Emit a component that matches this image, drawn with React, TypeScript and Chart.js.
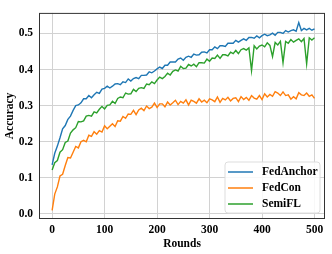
import React, { useEffect, useRef } from "react";
import { Chart, registerables } from "chart.js";

Chart.register(...registerables);

const xTicks = [0, 100, 200, 300, 400, 500];
const yTicks = [0.0, 0.1, 0.2, 0.3, 0.4, 0.5];
const seriesNames = ["FedAnchor", "FedCon", "SemiFL"];
const seriesColors = ["#1f77b4", "#ff7f0e", "#2ca02c"];

// rounds 0..500, every 5 rounds
const fedAnchor = [
  0.136, 0.168, 0.188, 0.211, 0.236, 0.245, 0.262, 0.271, 0.287, 0.300,
  0.302, 0.308, 0.319, 0.319, 0.328, 0.322, 0.330, 0.337, 0.334, 0.346,
  0.348, 0.354, 0.349, 0.354, 0.360, 0.361, 0.358, 0.366, 0.364, 0.374,
  0.368, 0.375, 0.378, 0.375, 0.384, 0.384, 0.385, 0.394, 0.391, 0.396,
  0.402, 0.407, 0.403, 0.412, 0.412, 0.421, 0.421, 0.421, 0.429, 0.432,
  0.426, 0.434, 0.437, 0.434, 0.443, 0.440, 0.441, 0.448, 0.449, 0.446,
  0.455, 0.455, 0.463, 0.458, 0.466, 0.466, 0.464, 0.473, 0.473, 0.473,
  0.481, 0.476, 0.481, 0.485, 0.481, 0.489, 0.489, 0.487, 0.493, 0.488,
  0.494, 0.498, 0.494, 0.496, 0.501, 0.495, 0.503, 0.503, 0.500, 0.508,
  0.504, 0.508, 0.510, 0.506, 0.530, 0.508, 0.514, 0.510, 0.514, 0.509,
  0.513,
];

const fedCon = [
  0.010, 0.055, 0.075, 0.105, 0.110, 0.134, 0.156, 0.155, 0.171, 0.187,
  0.183, 0.200, 0.204, 0.200, 0.218, 0.215, 0.228, 0.221, 0.231, 0.227,
  0.244, 0.236, 0.243, 0.250, 0.242, 0.258, 0.257, 0.270, 0.265, 0.277,
  0.276, 0.287, 0.275, 0.288, 0.293, 0.286, 0.299, 0.292, 0.296, 0.307,
  0.295, 0.305, 0.305, 0.297, 0.310, 0.302, 0.308, 0.315, 0.303, 0.312,
  0.307, 0.316, 0.302, 0.315, 0.312, 0.307, 0.319, 0.310, 0.315, 0.308,
  0.319, 0.316, 0.311, 0.324, 0.309, 0.320, 0.316, 0.323, 0.313, 0.320,
  0.322, 0.311, 0.325, 0.317, 0.323, 0.315, 0.328, 0.321, 0.318, 0.328,
  0.317, 0.333, 0.324, 0.331, 0.326, 0.339, 0.335, 0.328, 0.338, 0.328,
  0.330, 0.318, 0.325, 0.319, 0.336, 0.330, 0.328, 0.335, 0.326, 0.330,
  0.320,
];

const semiFL = [
  0.122, 0.142, 0.148, 0.171, 0.178, 0.198, 0.202, 0.224, 0.233, 0.239,
  0.256, 0.255, 0.258, 0.271, 0.273, 0.271, 0.283, 0.280, 0.290, 0.298,
  0.291, 0.301, 0.302, 0.312, 0.306, 0.320, 0.324, 0.322, 0.335, 0.332,
  0.333, 0.345, 0.339, 0.348, 0.350, 0.348, 0.360, 0.358, 0.366, 0.361,
  0.371, 0.379, 0.375, 0.381, 0.390, 0.385, 0.395, 0.399, 0.396, 0.409,
  0.403, 0.404, 0.414, 0.410, 0.415, 0.408, 0.419, 0.419, 0.418, 0.429,
  0.423, 0.432, 0.431, 0.440, 0.431, 0.441, 0.441, 0.438, 0.448, 0.444,
  0.453, 0.444, 0.455, 0.458, 0.454, 0.460, 0.397, 0.466, 0.457, 0.465,
  0.468, 0.463, 0.474, 0.467, 0.436, 0.475, 0.468, 0.478, 0.419, 0.478,
  0.473, 0.483, 0.476, 0.481, 0.485, 0.477, 0.486, 0.416, 0.488, 0.482,
  0.488,
];

const rounds = fedAnchor.map((_, i) => i * 5);
const seriesValues = [fedAnchor, fedCon, semiFL];

const FONT = "'Liberation Serif', 'Times New Roman', serif";

const framePlugin = {
  id: "frameAndLegend",
  afterDraw(chart: any) {
    const { ctx, chartArea } = chart;
    const { left, right, top, bottom } = chartArea;
    ctx.save();
    ctx.strokeStyle = "#333333";
    ctx.lineWidth = 1;
    ctx.strokeRect(left + 0.5, top + 0.5, right - left - 1, bottom - top - 1);

    // legend box (bottom right inside plot)
    const boxW = 95;
    const boxH = 51;
    const bx = right - 5 - boxW;
    const by = bottom - 6 - boxH;
    const r = 3;
    ctx.beginPath();
    ctx.moveTo(bx + r, by);
    ctx.lineTo(bx + boxW - r, by);
    ctx.quadraticCurveTo(bx + boxW, by, bx + boxW, by + r);
    ctx.lineTo(bx + boxW, by + boxH - r);
    ctx.quadraticCurveTo(bx + boxW, by + boxH, bx + boxW - r, by + boxH);
    ctx.lineTo(bx + r, by + boxH);
    ctx.quadraticCurveTo(bx, by + boxH, bx, by + boxH - r);
    ctx.lineTo(bx, by + r);
    ctx.quadraticCurveTo(bx, by, bx + r, by);
    ctx.closePath();
    ctx.fillStyle = "rgba(255,255,255,0.85)";
    ctx.fill();
    ctx.strokeStyle = "#dddddd";
    ctx.lineWidth = 1;
    ctx.stroke();

    ctx.font = `bold 11.5px ${FONT}`;
    ctx.textBaseline = "middle";
    ctx.textAlign = "left";
    seriesNames.forEach((name, i) => {
      const yy = by + 10 + i * 16;
      ctx.strokeStyle = seriesColors[i];
      ctx.lineWidth = 1.5;
      ctx.beginPath();
      ctx.moveTo(bx + 3, yy);
      ctx.lineTo(bx + 28, yy);
      ctx.stroke();
      ctx.fillStyle = "#000000";
      ctx.fillText(name, bx + 37, yy + 0.5);
    });
    ctx.restore();
  },
};

export default function App() {
  const canvasRef = useRef<HTMLCanvasElement | null>(null);

  useEffect(() => {
    document.body.style.margin = "0";
    const canvas = canvasRef.current;
    if (!canvas) return;
    const chart = new Chart(canvas, {
      type: "line",
      data: {
        datasets: seriesNames.map((name, i) => ({
          label: name,
          data: rounds.map((r, j) => ({ x: r, y: seriesValues[i][j] })),
          borderColor: seriesColors[i],
          backgroundColor: seriesColors[i],
          borderWidth: 1.4,
          pointRadius: 0,
          tension: 0,
          fill: false,
        })),
      },
      options: {
        animation: false,
        responsive: false,
        maintainAspectRatio: false,
        layout: { padding: { top: 5, right: 7, left: 0, bottom: 0 } },
        plugins: {
          legend: { display: false },
          tooltip: { enabled: false },
        },
        scales: {
          x: {
            type: "linear",
            min: -25,
            max: 520,
            afterBuildTicks: (scale: any) => {
              scale.ticks = xTicks.map((v) => ({ value: v }));
            },
            afterFit: (scale: any) => {
              scale.height = 35;
            },
            ticks: {
              color: "#000",
              font: { family: FONT, size: 11.5, weight: "bold" },
              padding: 4,
              maxRotation: 0,
              callback: (v: any) => String(v),
            },
            grid: {
              color: "#d2d2d2",
              lineWidth: 1,
              drawTicks: false,
            },
            border: { display: false },
            title: {
              display: true,
              text: "Rounds",
              color: "#000",
              font: { family: FONT, size: 11.5, weight: "bold" },
              padding: { top: 0, bottom: 3 },
            },
          },
          y: {
            type: "linear",
            min: -0.014,
            max: 0.557,
            afterBuildTicks: (scale: any) => {
              scale.ticks = yTicks.map((v) => ({ value: v }));
            },
            afterFit: (scale: any) => {
              scale.width = 39;
            },
            ticks: {
              color: "#000",
              font: { family: FONT, size: 11.5, weight: "bold" },
              padding: 6,
              callback: (v: any) => Number(v).toFixed(1),
            },
            grid: {
              color: "#d2d2d2",
              lineWidth: 1,
              drawTicks: false,
            },
            border: { display: false },
            title: {
              display: true,
              text: "Accuracy",
              color: "#000",
              font: { family: FONT, size: 11.5, weight: "bold" },
              padding: { top: 3, bottom: 0 },
            },
          },
        },
      },
      plugins: [framePlugin],
    });
    return () => chart.destroy();
  }, []);

  return (
    <div style={{ width: 332, height: 254 }}>
      <canvas ref={canvasRef} width={332} height={254} style={{ display: "block" }} />
    </div>
  );
}
